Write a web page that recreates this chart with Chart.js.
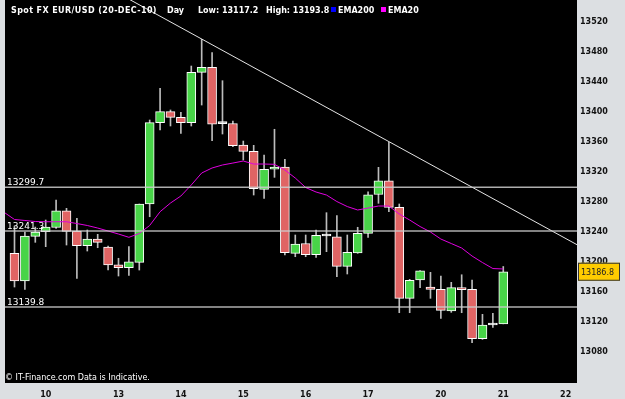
<!DOCTYPE html>
<html>
<head>
<meta charset="utf-8">
<script src="https://cdn.jsdelivr.net/npm/chart.js@4.4.0/dist/chart.umd.min.js"></script>
<style>
  body { margin: 0; background: #dcdfe2; }
  canvas { display: block; }
</style>
</head>
<body>
<canvas id="mycanvas" width="625" height="399"></canvas>
<script>
// 4-hour candles, index 0..47
var opens  = [13211.4,13174.4,13234.1,13240.3,13245.9,13268.3,13241.2,13221.6,13230.5,13219.9,
              13196.2,13192.2,13199.4,13277.3,13385.9,13400.6,13393.1,13385.9,13453.2,13459.9,
              13384.6,13384.8,13356.1,13347.7,13296.9,13323.7,13326.7,13211.4,13224.5,13209.6,
              13234.5,13233.6,13194.0,13211.8,13238.1,13290.0,13308.4,13272.9,13151.3,13175.8,
              13166.4,13163.3,13134.4,13165.5,13163.3,13097.4,13115.7,13117.2];
var highs  = [13247.9,13239.9,13246.5,13255.9,13282.6,13271.5,13258.2,13242.6,13236.8,13221.2,
              13204.8,13220.3,13277.3,13389.5,13431.8,13402.9,13399.8,13461.6,13497.3,13479.4,
              13442.0,13388.2,13361.4,13355.7,13342.7,13377.1,13337.0,13235.9,13235.9,13242.6,
              13265.7,13261.7,13235.9,13246.2,13293.7,13326.3,13359.7,13277.3,13176.7,13188.5,
              13186.0,13181.1,13172.7,13182.8,13175.8,13129.9,13131.3,13193.8];
var lows   = [13166.4,13163.3,13226.1,13220.3,13244.6,13222.5,13177.8,13214.5,13218.9,13189.1,
              13181.1,13182.0,13189.1,13260.3,13376.1,13381.5,13371.7,13381.5,13409.5,13361.8,
              13370.8,13353.8,13336.1,13289.3,13284.9,13312.9,13209.2,13206.9,13206.9,13205.8,
              13213.6,13180.2,13183.8,13211.4,13232.8,13278.2,13267.0,13132.1,13132.1,13165.5,
              13151.3,13124.6,13132.6,13132.1,13092.0,13096.5,13112.6,13117.2];
var closes = [13174.4,13234.5,13239.9,13246.5,13268.3,13240.8,13221.6,13230.5,13226.1,13195.8,
              13192.2,13200.2,13277.3,13385.9,13400.6,13393.1,13385.9,13453.2,13459.9,13383.8,
              13384.6,13355.2,13347.7,13297.7,13323.7,13326.7,13212.2,13223.6,13209.6,13235.5,
              13234.5,13194.0,13212.8,13238.1,13289.7,13308.4,13272.9,13151.3,13175.4,13188.2,
              13163.3,13135.3,13165.5,13162.8,13097.4,13115.7,13115.7,13186.8];

// EMA20, first value belongs to candle index -1
var ema20 = [13266.2,
             13256.6,13255.3,13253.9,13253.6,13253.6,13253.6,13251.2,13248.6,13245.2,13241.2,
             13237.2,13232.8,13237.9,13248.6,13267.0,13278.6,13288.0,13302.7,13318.7,13325.4,
             13329.4,13332.0,13334.7,13330.7,13330.7,13330.3,13322.7,13312.0,13299.3,13293.3,
             13289.3,13280.6,13273.9,13269.3,13271.9,13274.6,13274.6,13263.9,13255.9,13247.2,
             13239.9,13230.5,13224.5,13218.5,13207.8,13199.1,13191.1,13190.5];

var dayIdx    = [3, 10, 16, 22, 28, 34, 41, 47, 53];
var dayLabels = ['10', '13', '14', '15', '16', '17', '20', '21', '22'];
var priceTicks = [13080, 13120, 13160, 13200, 13240, 13280, 13320, 13360, 13400, 13440, 13480, 13520];
var levels = [13299.7, 13241.3, 13139.8];
var trendX = [11, 55];
var trendY = [13551, 13216];
var lastPrice = 13186.8;

var wickData = [], bodyData = [], bodyColors = [];
for (var i = 0; i < opens.length; i++) {
  wickData.push({x: i, y: [lows[i], highs[i]]});
  bodyData.push({x: i, y: [Math.min(opens[i], closes[i]), Math.max(opens[i], closes[i])]});
  if (closes[i] > opens[i]) bodyColors.push('#48d448');
  else if (closes[i] < opens[i]) bodyColors.push('#e06464');
  else bodyColors.push('#e8e8e8');
}
var emaData = ema20.map(function(v, k) { return {x: k - 1, y: v}; });
var trendData = trendX.map(function(v, k) { return {x: v, y: trendY[k]}; });

var decor = {
  id: 'decor',
  beforeDraw: function(chart) {
    var c = chart.ctx, a = chart.chartArea;
    c.save();
    c.fillStyle = '#dcdfe2';
    c.fillRect(0, 0, chart.width, chart.height);
    c.fillStyle = '#000000';
    c.fillRect(a.left, a.top, a.right - a.left, a.bottom - a.top);
    c.restore();
  },
  afterDraw: function(chart) {
    var c = chart.ctx, a = chart.chartArea, ys = chart.scales.y;
    c.save();
    // horizontal levels
    levels.forEach(function(v) {
      var y = ys.getPixelForValue(v);
      c.strokeStyle = 'rgba(205,205,205,0.85)';
      c.lineWidth = 1.5;
      c.beginPath();
      c.moveTo(a.left, y);
      c.lineTo(a.right, y);
      c.stroke();
      c.fillStyle = '#ffffff';
      c.font = '9px "DejaVu Sans"';
      c.textBaseline = 'alphabetic';
      c.textAlign = 'left';
      c.fillText(v.toFixed(1), 7, y - 2);
    });
    // header
    c.fillStyle = '#ffffff';
    c.font = 'bold 8px "DejaVu Sans"';
    c.letterSpacing = '0.4px';
    c.fillText('Spot FX EUR/USD (20-DEC-10)', 11, 13);
    c.letterSpacing = '0px';
    c.fillText('Day', 167, 13);
    c.fillText('Low: 13117.2', 198, 13);
    c.fillText('High: 13193.8', 266, 13);
    c.fillStyle = '#0000ff';
    c.fillRect(331, 7, 5, 5);
    c.fillStyle = '#ff00ff';
    c.fillRect(381, 7, 5, 5);
    c.fillStyle = '#ffffff';
    c.fillText('EMA200', 338, 13);
    c.fillText('EMA20', 388, 13);
    // footer
    c.font = '8px "DejaVu Sans"';
    c.fillText('\u00a9 IT-Finance.com Data is Indicative.', 5, 380);
    // last price box
    var py = ys.getPixelForValue(lastPrice);
    c.fillStyle = '#ffcc00';
    c.fillRect(578, py - 9, 42, 18);
    c.strokeStyle = '#333333';
    c.lineWidth = 1;
    c.strokeRect(578.5, py - 8.5, 41, 17);
    c.fillStyle = '#222222';
    c.font = '8px "DejaVu Sans"';
    c.textBaseline = 'middle';
    c.fillText(lastPrice.toFixed(1), 581, py + 1);
    c.restore();
  }
};

new Chart(document.getElementById('mycanvas'), {
  type: 'bar',
  data: {
    datasets: [
      {
        type: 'line', data: trendData, borderColor: '#e4e4e4', borderWidth: 1,
        pointRadius: 0, order: 1
      },
      {
        type: 'line', data: emaData, borderColor: '#e000e0', borderWidth: 1,
        pointRadius: 0, tension: 0, order: 2
      },
      {
        data: bodyData, backgroundColor: bodyColors, borderColor: '#ffffff', borderWidth: 1,
        borderSkipped: false, barThickness: 9, minBarLength: 2, grouped: false, order: 3
      },
      {
        data: wickData, backgroundColor: '#bcbcbc', borderWidth: 0,
        barThickness: 1, grouped: false, order: 4
      }
    ]
  },
  options: {
    responsive: false,
    animation: false,
    devicePixelRatio: 1,
    layout: { padding: { left: 5, top: 0, right: 0, bottom: 0 } },
    plugins: { legend: { display: false }, tooltip: { enabled: false } },
    scales: {
      x: {
        type: 'linear', min: -0.913, max: 54.09, offset: false,
        grid: { display: false, drawTicks: false }, border: { display: false },
        afterBuildTicks: function(s) { s.ticks = dayIdx.map(function(v) { return {value: v}; }); },
        afterFit: function(s) { s.height = 16; s.paddingLeft = 0; s.paddingRight = 0; },
        ticks: {
          autoSkip: false, maxRotation: 0, padding: 7, color: '#111111',
          font: { family: 'DejaVu Sans', size: 8, weight: 'bold' },
          callback: function(v, idx) { return dayLabels[idx]; }
        }
      },
      y: {
        position: 'right', min: 13038.2, max: 13549.8, beginAtZero: false,
        grid: { display: false, drawTicks: false }, border: { display: false },
        afterBuildTicks: function(s) { s.ticks = priceTicks.map(function(v) { return {value: v}; }); },
        afterFit: function(s) { s.width = 48; s.paddingTop = 0; s.paddingBottom = 0; },
        ticks: {
          padding: 3, crossAlign: 'near', color: '#111111',
          font: { family: 'DejaVu Sans', size: 8, weight: 'bold' },
          callback: function(v) { return String(v); }
        }
      }
    }
  },
  plugins: [decor]
});
</script>
</body>
</html>
